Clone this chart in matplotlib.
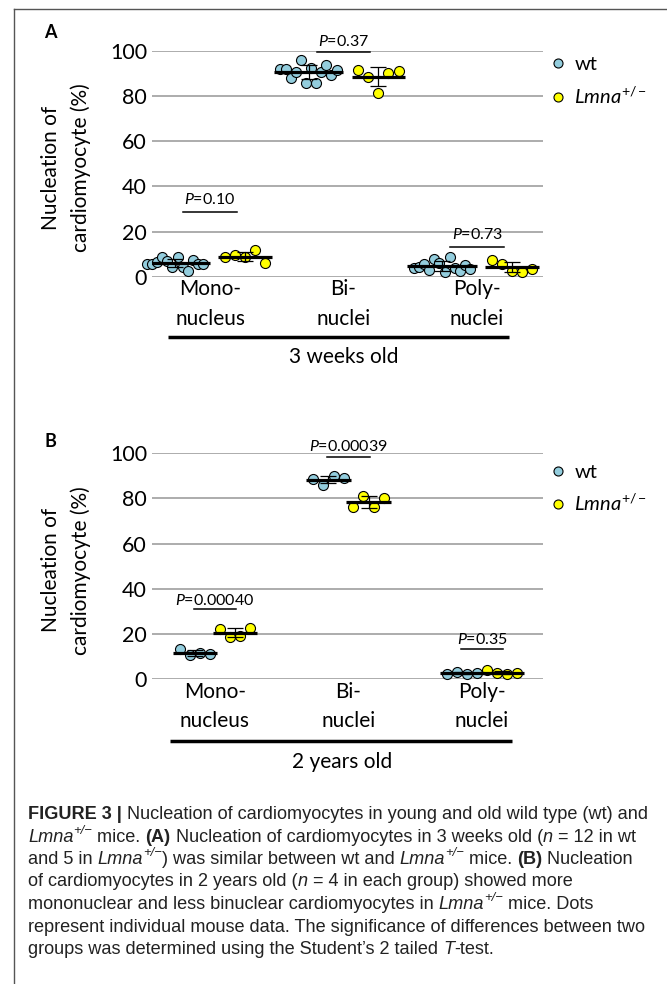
import numpy as np
import matplotlib
matplotlib.use('Agg')
import matplotlib.pyplot as plt
from matplotlib.lines import Line2D

W, H = 667, 984

categories = ['Mono-\nnucleus', 'Bi-\nnuclei', 'Poly-\nnuclei']
yticks = [0, 20, 40, 60, 80, 100]

# panel A: 3 weeks old (wt n=12, Lmna+/- n=5)
a_wt_mono = [5.5, 5.5, 6.5, 8.5, 7.0, 4.5, 8.5, 4.5, 2.5, 7.5, 5.5, 5.5]
a_wt_bi = [91.9, 91.9, 87.9, 90.7, 95.9, 85.7, 92.4, 85.7, 90.6, 93.7, 89.3, 91.5]
a_wt_poly = [4.0, 4.5, 5.5, 3.0, 8.0, 6.0, 2.0, 8.5, 4.0, 2.5, 5.0, 3.5]
a_lm_mono = [8.5, 9.6, 8.5, 12.0, 6.0]
a_lm_bi = [91.5, 88.4, 81.3, 90.1, 91.0]
a_lm_poly = [7.5, 5.8, 2.5, 2.0, 3.5]
a_pvals = ['0.10', '0.37', '0.73']

# panel B: 2 years old (n=4 each)
b_wt_mono = [13.5, 10.5, 11.5, 11.0]
b_wt_bi = [88.5, 86.0, 90.0, 89.0]
b_wt_poly = [2.0, 3.2, 2.3, 2.8]
b_lm_mono = [22.0, 18.5, 19.0, 22.5]
b_lm_bi = [76.0, 81.2, 76.0, 80.0]
b_lm_poly = [3.8, 2.6, 2.2, 2.7]
b_pvals = ['0.00040', '0.00039', '0.35']

WT_COLOR = '#93cddd'
LM_COLOR = '#ffff00'

plt.rcParams['font.family'] = ['Lato', 'DejaVu Sans']
plt.rcParams['mathtext.fontset'] = 'custom'
plt.rcParams['mathtext.rm'] = 'Lato'
plt.rcParams['mathtext.it'] = 'Lato:italic'
plt.rcParams['mathtext.bf'] = 'Lato:bold'

fig = plt.figure(figsize=(W / 100, H / 100), dpi=100)
fig.patch.set_facecolor('white')


def px_axes(left, top, right, bottom):
    return fig.add_axes([left / W, 1 - bottom / H, (right - left) / W, (bottom - top) / H])


def panel(ax, wt, lm, pvals, xlim, offset, spread_wt, spread_lm, line_wt, line_lm,
          bracket_y, text_y, bracket_half, underline, age, age_xy, leg_anchor):
    ax.set_xlim(*xlim)
    ax.set_ylim(0, 100)
    for s in ax.spines.values():
        s.set_visible(False)
    ax.set_yticks(yticks)
    ax.yaxis.grid(True, color='#a6a6a6', lw=1.3)
    ax.set_axisbelow(True)
    ax.tick_params(axis='y', length=0, pad=3.6, labelsize=15.5)
    ax.set_xticks(range(len(categories)))
    ax.set_xticklabels(categories, fontsize=15, linespacing=1.6)
    ax.tick_params(axis='x', length=0, pad=2.0)

    for k in range(len(categories)):
        for vals, col, off, spr, half in [(wt[k], WT_COLOR, -offset, spread_wt, line_wt),
                                          (lm[k], LM_COLOR, offset, spread_lm, line_lm)]:
            vals = np.asarray(vals)
            xs = k + off + np.linspace(-spr, spr, len(vals))
            ax.scatter(xs, vals, s=52, c=col, edgecolors='black', linewidths=0.8,
                       zorder=3, clip_on=False)
            m = vals.mean()
            sd = vals.std(ddof=1)
            ax.errorbar(k + off, m, yerr=sd, fmt='none', ecolor='black', elinewidth=0.9,
                        capsize=6, capthick=0.9, zorder=4)
            ax.plot([k + off - half, k + off + half], [m, m], color='black', lw=2.3,
                    zorder=5, solid_capstyle='butt')
        ax.plot([k - bracket_half, k + bracket_half], [bracket_y[k]] * 2, color='black',
                lw=1.1, zorder=5, clip_on=False)
        ax.text(k, text_y[k], r'$\mathit{P}$=' + pvals[k], ha='center', va='center',
                fontsize=11.5, zorder=6)

    ax.plot(underline[0], [underline[1]] * 2, color='black', lw=2.5,
            transform=ax.get_xaxis_transform(), clip_on=False, solid_capstyle='butt')
    ax.text(age_xy[0], age_xy[1], age, transform=ax.transAxes, ha='center', va='center',
            fontsize=15)

    handles = [Line2D([], [], marker='o', ls='none', mfc=WT_COLOR, mec='black', mew=0.8, ms=6.5),
               Line2D([], [], marker='o', ls='none', mfc=LM_COLOR, mec='black', mew=0.8, ms=6.5)]
    ax.legend(handles, ['wt', r'$\mathit{Lmna}^{+/-}$'], loc='upper left',
              bbox_to_anchor=leg_anchor, frameon=False, fontsize=14.5, handlelength=0.8,
              handletextpad=0.4, labelspacing=0.6, borderpad=0, borderaxespad=0)


axA = px_axes(152, 50.7, 542.5, 276.7)
panel(axA,
      [a_wt_mono, a_wt_bi, a_wt_poly], [a_lm_mono, a_lm_bi, a_lm_poly], a_pvals,
      xlim=(-0.4345, 2.4906), offset=0.262, spread_wt=0.21, spread_lm=0.15,
      line_wt=0.26, line_lm=0.2,
      bracket_y=[28.8, 99.3, 13.0], text_y=[34.0, 104.0, 18.8], bracket_half=0.2,
      underline=([-0.315, 2.24], -0.2655), age='3 weeks old', age_xy=(0.4917, -0.354),
      leg_anchor=(1.02, 0.975))

axB = px_axes(152, 453.3, 542.5, 679.0)
panel(axB,
      [b_wt_mono, b_wt_bi, b_wt_poly], [b_lm_mono, b_lm_bi, b_lm_poly], b_pvals,
      xlim=(-0.4719, 2.4532), offset=0.15, spread_wt=0.115, spread_lm=0.115,
      line_wt=0.165, line_lm=0.165,
      bracket_y=[31.0, 98.2, 13.3], text_y=[34.7, 103.2, 17.3], bracket_half=0.16,
      underline=([-0.337, 2.225], -0.2747), age='2 years old', age_xy=(0.4878, -0.366),
      leg_anchor=(1.02, 0.955))

for top, bottom in [(50.7, 276.7), (453.3, 679.0)]:
    mid = 1 - ((top + bottom) / 2 + 4) / H
    fig.text(51 / W, mid, 'Nucleation of', rotation=90, ha='center', va='center', fontsize=15)
    fig.text(81 / W, mid, 'cardiomyocyte (%)', rotation=90, ha='center', va='center', fontsize=15)

fig.text(50 / W, 1 - 33 / H, 'A', fontsize=13, fontweight='bold', ha='center', va='center')
fig.text(50 / W, 1 - 441.7 / H, 'B', fontsize=13, fontweight='bold', ha='center', va='center')

# frame
fig.add_artist(Line2D([14 / W, 14 / W], [0, 1 - 9 / H], transform=fig.transFigure,
                      color='#555555', lw=1.0))
fig.add_artist(Line2D([14 / W, 1], [1 - 9 / H, 1 - 9 / H], transform=fig.transFigure,
                      color='#555555', lw=1.0))

# caption
CAP_FONT = ['Liberation Sans', 'DejaVu Sans']
CAP_COLOR = '#222222'
sup = '+/\u2212'
caption = [
    [('FIGURE 3 |', 'b'), (' Nucleation of cardiomyocytes in young and old wild type (wt) and', 'n')],
    [('Lmna', 'i'), (sup, 'is'), (' mice. ', 'n'), ('(A)', 'b'),
     (' Nucleation of cardiomyocytes in 3 weeks old (', 'n'), ('n', 'i'), (' = 12 in wt', 'n')],
    [('and 5 in ', 'n'), ('Lmna', 'i'), (sup, 'is'), (') was similar between wt and ', 'n'),
     ('Lmna', 'i'), (sup, 'is'), (' mice. ', 'n'), ('(B)', 'b'), (' Nucleation', 'n')],
    [('of cardiomyocytes in 2 years old (', 'n'), ('n', 'i'), (' = 4 in each group) showed more', 'n')],
    [('mononuclear and less binuclear cardiomyocytes in ', 'n'), ('Lmna', 'i'), (sup, 'is'),
     (' mice. Dots', 'n')],
    [('represent individual mouse data. The significance of differences between two', 'n')],
    [('groups was determined using the Student\u2019s 2 tailed ', 'n'), ('T', 'i'), ('-test.', 'n')],
]

renderer = fig.canvas.get_renderer()


def text_width(s, **kw):
    a = fig.text(0, 0, '|' + s + '|', **kw)
    b = fig.text(0, 0, '||', **kw)
    w = a.get_window_extent(renderer).width - b.get_window_extent(renderer).width
    a.remove()
    b.remove()
    return w


def style_kw(st, size):
    return dict(fontsize=size * 0.72 if 's' in st else size, family=CAP_FONT,
                fontweight='bold' if 'b' in st else 'normal',
                fontstyle='italic' if 'i' in st else 'normal')


def line_width(parts, size):
    return sum(text_width(s, **style_kw(st, size)) for s, st in parts)


# size the caption so that the longest full line spans about x=28..650
CAP_SIZE = 12.0 * 622 / max(line_width(caption[0], 12.0), line_width(caption[5], 12.0))


def rich_line(x, y, parts):
    cx = x
    for s, st in parts:
        kw = style_kw(st, CAP_SIZE)
        w = text_width(s, **kw)
        dy = CAP_SIZE * 0.42 * 100 / 72 if 's' in st else 0
        fig.text(cx / W, 1 - (y - dy) / H, s, va='baseline', ha='left', color=CAP_COLOR, **kw)
        cx += w


for i, parts in enumerate(caption):
    rich_line(28, 819 + 22.5 * i, parts)

fig.savefig('out.png', dpi=100, facecolor='white')
